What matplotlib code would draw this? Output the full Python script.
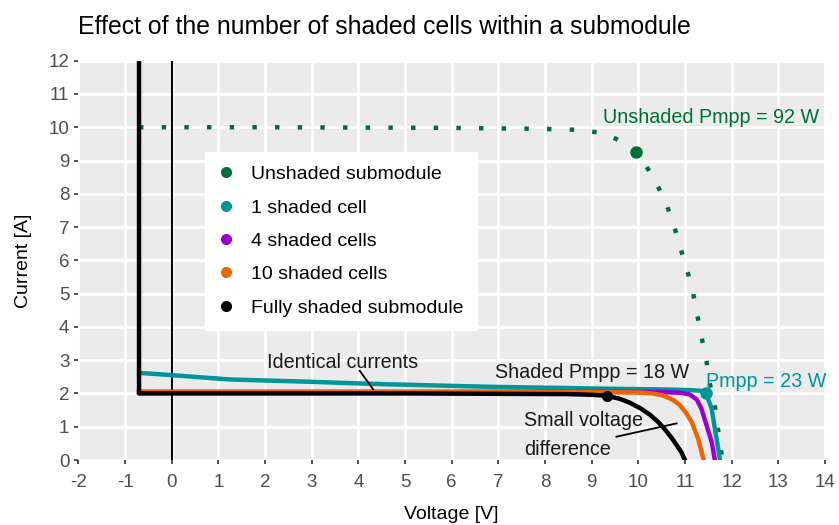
import matplotlib
matplotlib.use('Agg')
import matplotlib.pyplot as plt
from matplotlib.lines import Line2D

plt.rcParams['font.family'] = ['Liberation Sans', 'DejaVu Sans']

# curves (voltage [V], current [A])
unshaded_v = [-0.7, 2, 4, 6, 8, 8.75, 9.25, 9.7, 10.0, 10.33, 10.57, 10.75, 10.89,
              11.04, 11.16, 11.26, 11.36, 11.46, 11.53, 11.64, 11.71, 11.8]
unshaded_i = [10.0, 10.0, 9.99, 9.98, 9.95, 9.92, 9.82, 9.54, 9.22, 8.46, 7.81, 7.11, 6.43,
              5.73, 5.11, 4.38, 3.66, 2.98, 2.31, 1.61, 0.9, 0.0]

cell1_v = [-0.7, 0, 1.25, 2.75, 4.5, 6.8, 9.0, 10.5, 11.1, 11.35, 11.45, 11.57, 11.64, 11.71, 11.75]
cell1_i = [2.62, 2.55, 2.42, 2.36, 2.28, 2.2, 2.15, 2.12, 2.1, 2.08, 2.0, 1.55, 0.95, 0.35, 0.0]

cell4_v = [-0.7, 5, 9, 10.5, 10.9, 11.1, 11.25, 11.35, 11.46, 11.57, 11.64]
cell4_i = [2.05, 2.05, 2.05, 2.04, 2.02, 1.97, 1.82, 1.55, 1.05, 0.55, 0.0]

cell10_v = [-0.7, 5, 9, 10.0, 10.3, 10.53, 10.75, 10.89, 11.02, 11.14, 11.28, 11.4]
cell10_i = [2.04, 2.04, 2.04, 2.03, 2.0, 1.94, 1.8, 1.65, 1.42, 1.15, 0.65, 0.0]

full_v = [-0.7, -0.7, 5, 8.5, 9.0, 9.32, 9.6, 9.82, 10.05, 10.25, 10.42, 10.57, 10.72, 10.82, 10.92, 11.0]
full_i = [13, 2.0, 2.0, 1.98, 1.96, 1.93, 1.84, 1.72, 1.55, 1.36, 1.15, 0.92, 0.65, 0.45, 0.24, 0.0]

# maximum power points
mpp_unshaded = (9.96, 9.25)
mpp_cell1 = (11.45, 2.0)
mpp_full = (9.32, 1.93)

labels = ['Unshaded submodule', '1 shaded cell', '4 shaded cells',
          '10 shaded cells', 'Fully shaded submodule']
colors = ['#006e37', '#00959a', '#9a00cc', '#f06400', '#000000']

x_ticks = list(range(-2, 15))
y_ticks = list(range(0, 13))

fig = plt.figure(figsize=(8.39, 5.25), dpi=100)
ax = fig.add_axes([0.0934, 0.1238, 0.8899, 0.7606])
ax.set_facecolor('#ebebeb')
for s in ax.spines.values():
    s.set_visible(False)
ax.set_xlim(-2, 14)
ax.set_ylim(0, 12)
ax.set_xticks(x_ticks)
ax.set_xticklabels([str(t) for t in x_ticks])
ax.set_yticks(y_ticks)
ax.set_yticklabels([str(t) for t in y_ticks])
ax.grid(True, color='white', linewidth=2.0)
ax.set_axisbelow(True)
ax.tick_params(colors='#333333', labelcolor='#4d4d4d', labelsize=13.5, length=3, width=1.2)
ax.tick_params(axis='x', pad=7)

ax.axvline(0, color='black', linewidth=1.4, zorder=2)

ax.plot(unshaded_v, unshaded_i, color=colors[0], linewidth=3.2,
        linestyle=(0, (1, 4.1)), zorder=3)
ax.plot(cell1_v, cell1_i, color=colors[1], linewidth=3.2, zorder=3)
ax.plot(cell4_v, cell4_i, color=colors[2], linewidth=3.2, zorder=3)
ax.plot(cell10_v, cell10_i, color=colors[3], linewidth=3.2, zorder=3)
ax.plot(full_v, full_i, color=colors[4], linewidth=3.2, zorder=4)

ax.plot(*mpp_unshaded, 'o', color=colors[0], markersize=8, zorder=5)
ax.plot(*mpp_cell1, 'o', color=colors[1], markersize=8, zorder=5)
ax.plot(*mpp_full, 'o', color=colors[4], markersize=7, zorder=5)

ax.text(9.25, 10.3, 'Unshaded Pmpp = 92 W', color=colors[0], fontsize=14.2, va='center')
ax.text(11.45, 2.37, 'Pmpp = 23 W', color=colors[1], fontsize=14.2, va='center')
ax.text(9.0, 2.64, 'Shaded Pmpp = 18 W', color='#1a1a1a', fontsize=14.2, ha='center', va='center')
ax.text(3.66, 2.92, 'Identical currents', color='#1a1a1a', fontsize=14.2, ha='center', va='center')
ax.plot([4.03, 4.32], [2.68, 2.12], color='black', linewidth=1.3, zorder=6)
ax.text(7.55, 1.2, 'Small voltage', color='#1a1a1a', fontsize=14.2, va='center')
ax.text(7.55, 0.33, 'difference', color='#1a1a1a', fontsize=14.2, va='center')
ax.plot([9.53, 10.82], [0.70, 1.10], color='black', linewidth=1.3, zorder=6)

handles = [Line2D([], [], marker='o', linestyle='none', color=c, markersize=7) for c in colors]
leg = ax.legend(handles, labels, loc='upper left', bbox_to_anchor=(0.1696, 0.7714),
                frameon=True, fancybox=False, fontsize=14, borderpad=0.7,
                labelspacing=0.81, handlelength=0.8, handletextpad=0.87, borderaxespad=0)
leg.get_frame().set_facecolor('white')
leg.get_frame().set_edgecolor('white')
leg.get_frame().set_alpha(1)

ax.set_xlabel('Voltage [V]', fontsize=14, labelpad=11)
ax.set_ylabel('Current [A]', fontsize=14, labelpad=12)
fig.text(0.0934, 1 - 27 / 525, 'Effect of the number of shaded cells within a submodule',
         fontsize=17.8, va='center', ha='left')

fig.savefig('out.png', dpi=100)
